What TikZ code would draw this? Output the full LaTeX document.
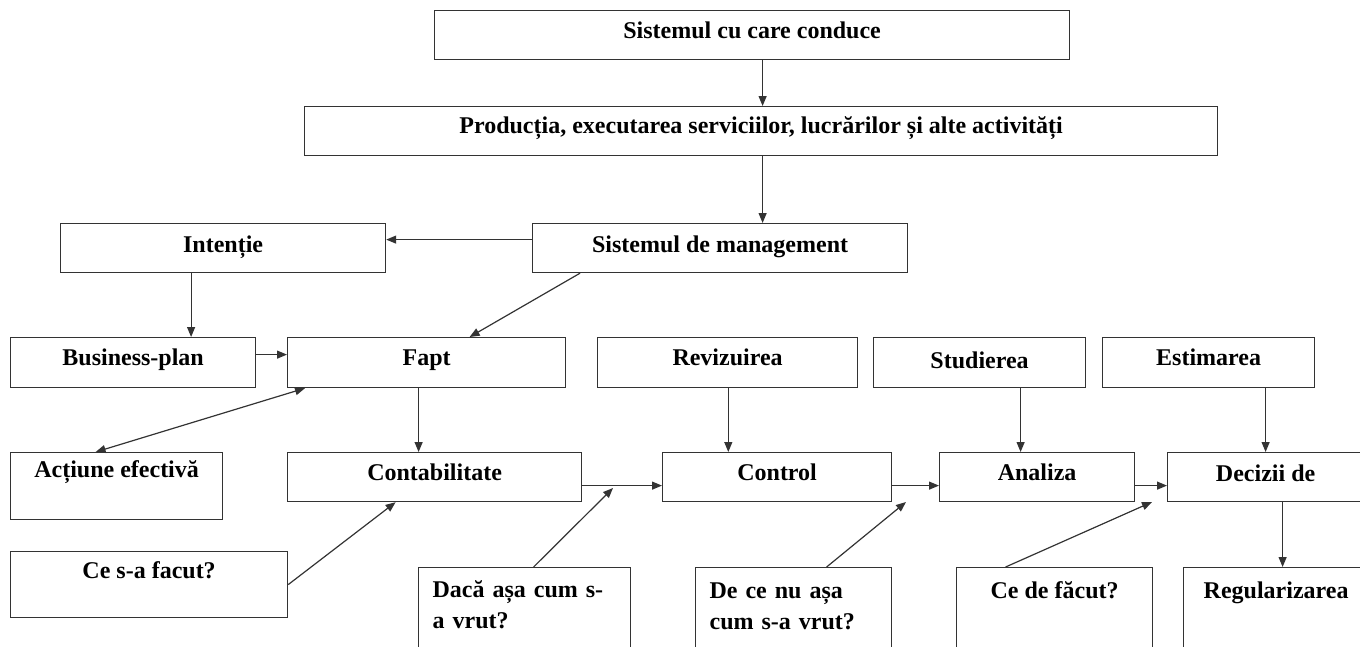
\documentclass[tikz,border=0pt]{standalone}
\usepackage{fontspec}
\setmainfont{Liberation Serif}
\usetikzlibrary{arrows.meta,calc}
\definecolor{linie}{HTML}{333333}
\tikzstyle{cutie} = [
    draw=linie,
    line width=1.2pt,
    anchor=north west,
    inner xsep=0pt,
    inner ysep=0pt,
    font=\bfseries\fontsize{24}{31}\selectfont
    ]
\tikzstyle{sageata} = [
    draw=linie,
    line width=1.2pt,
    -{Triangle[length=10pt,width=8pt]}
    ]
\tikzstyle{sageatadubla} = [
    draw=linie,
    line width=1.2pt,
    {Triangle[length=10pt,width=8pt]}-{Triangle[length=10pt,width=8pt]}
    ]
\tikzstyle{stanga} = [
    align=left,
    inner xsep=14pt
    ]

\begin{document}
\begin{tikzpicture}[x=1pt,y=-1pt]
\useasboundingbox (0,0) rectangle (1360,646);
\clip (0,0) rectangle (1360,646);
% top
\node[cutie, minimum width=635pt, text height=28pt, text depth=21pt] (sist) at (434,10) {Sistemul cu care conduce};
\node[cutie, minimum width=913pt, text height=27pt, text depth=22pt] (prod) at (304,106) {Producția, executarea serviciilor, lucrărilor și alte activități};
\node[cutie, minimum width=375pt, text height=29pt, text depth=20pt] (mgmt) at (532,223) {Sistemul de management};
\node[cutie, minimum width=325pt, text height=29pt, text depth=20pt] (intentie) at (60,223) {Intenție};
% second row
\node[cutie, minimum width=245pt, text height=28pt, text depth=22pt] (bplan) at (10,337) {Business-plan};
\node[cutie, minimum width=278pt, text height=28pt, text depth=22pt] (fapt) at (287,337) {Fapt};
\node[cutie, minimum width=260pt, text height=28pt, text depth=22pt] (reviz) at (597,337) {Revizuirea};
\node[cutie, minimum width=212pt, text height=31pt, text depth=19pt] (stud) at (873,337) {Studierea};
\node[cutie, minimum width=212pt, text height=28pt, text depth=22pt] (estim) at (1102,337) {Estimarea};
% third row
\node[cutie, minimum width=212pt, text height=25pt, text depth=42pt] (actiune) at (10,452) {Acțiune efectivă};
\node[cutie, minimum width=294pt, text height=28pt, text depth=21pt] (contab) at (287,452) {Contabilitate};
\node[cutie, minimum width=229pt, text height=28pt, text depth=21pt] (control) at (662,452) {Control};
\node[cutie, minimum width=195pt, text height=28pt, text depth=21pt] (analiza) at (939,452) {Analiza};
\node[cutie, minimum width=196pt, text height=29pt, text depth=20pt] (decizii) at (1167,452) {Decizii de};
% bottom
\node[cutie, minimum width=277pt, text height=27pt, text depth=39pt] (cefacut) at (10,551) {Ce s-a facut?};
\node[cutie, stanga, text width=184pt, text height=30pt, text depth=73pt] (daca) at (418,567) {Dacă așa cum s-\\a vrut?};
\node[cutie, stanga, text width=168pt, text height=31pt, text depth=72pt] (dece) at (695,567) {De ce nu așa\\cum s-a vrut?};
\node[cutie, minimum width=196pt, text height=31pt, text depth=72pt] (cedef) at (956,567) {Ce de făcut?};
\node[cutie, minimum width=185pt, text height=31pt, text depth=72pt] (regul) at (1183,567) {Regularizarea};

\coordinate (k1) at (613,488);
\coordinate (k2) at (906,502);
\coordinate (k3) at (1152,502);

\draw[sageata] ([xshift=10.5pt]sist.south) -- ([xshift=1.5pt]prod.north);
\draw[sageata] ([xshift=1.5pt]prod.south) -- ([xshift=42.5pt]mgmt.north);
\draw[sageata] ([yshift=8.5pt]mgmt.west) -- ([yshift=8.5pt]intentie.east);
\draw[sageata] ([xshift=48pt]mgmt.south west) -- ([xshift=43pt]fapt.north);
\draw[sageata] ([xshift=-32pt]intentie.south) -- ([xshift=58pt]bplan.north);
\draw[sageata] ([yshift=8pt]bplan.east) -- ([yshift=8pt]fapt.west);
\draw[sageatadubla] ([xshift=18pt]fapt.south west) -- ([xshift=-21pt]actiune.north);
\draw[sageata] ([xshift=-8pt]fapt.south) -- ([xshift=-16pt]contab.north);
\draw[sageata] ([xshift=0.7pt]reviz.south) -- ([xshift=-48.8pt]control.north);
\draw[sageata] ([xshift=41pt]stud.south) -- ([xshift=-16.5pt]analiza.north);
\draw[sageata] ([xshift=57pt]estim.south) -- (decizii.north);
\draw[sageata] ([yshift=-8.5pt]contab.east) -- ([yshift=-8.5pt]control.west);
\draw[sageata] ([yshift=-8.5pt]control.east) -- ([yshift=-8.5pt]analiza.west);
\draw[sageata] ([yshift=-8.5pt]analiza.east) -- ([yshift=-8.5pt]decizii.west);
\draw[sageata] (cefacut.east) -- ([xshift=-39pt]contab.south);
\draw[sageata] ([xshift=9pt]daca.north) -- (k1);
\draw[sageata] ([xshift=33pt]dece.north) -- (k2);
\draw[sageata] ([xshift=-49pt]cedef.north) -- (k3);
\draw[sageata] ([xshift=17pt]decizii.south) -- ([xshift=6.5pt]regul.north);
\end{tikzpicture}
\end{document}
